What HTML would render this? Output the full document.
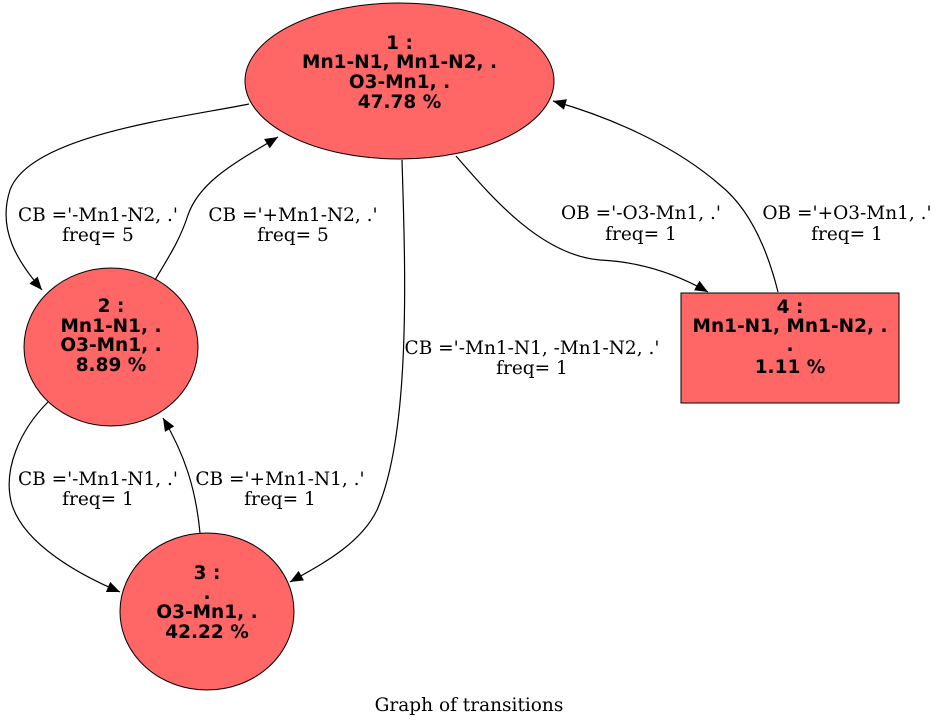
<!DOCTYPE html>
<html><head><meta charset="utf-8"><style>
html,body{margin:0;padding:0;background:#fff;}
svg{display:block;}
.n{font-family:"DejaVu Sans","Liberation Sans",sans-serif;font-weight:bold;font-size:18.5px;text-anchor:middle;fill:#000;}
.e{font-family:"DejaVu Serif","Liberation Serif",serif;font-size:18.5px;text-anchor:middle;fill:#000;}
path.c{fill:none;stroke:#000;stroke-width:1.2;}
</style></head><body>
<svg width="939" height="727" viewBox="0 0 939 727" xmlns="http://www.w3.org/2000/svg">
<defs><marker id="a" viewBox="0 0 10 10" refX="10" refY="5" markerWidth="13" markerHeight="13" markerUnits="userSpaceOnUse" orient="auto"><path d="M0,0.8 L10,5 L0,9.2 z" fill="#000"/></marker></defs>
<ellipse cx="399.5" cy="81" rx="154.5" ry="78" fill="#ff6666" stroke="#000"/>
<ellipse cx="111" cy="347" rx="87" ry="79" fill="#ff6666" stroke="#000"/>
<ellipse cx="207" cy="611.5" rx="87" ry="78.5" fill="#ff6666" stroke="#000"/>
<rect x="681" y="293" width="218" height="110" fill="#ff6666" stroke="#000"/>
<path class="c" marker-end="url(#a)" d="M249,104 C180,118 30,135 10,190 C-3,230 18,262 42,290"/>
<path class="c" marker-end="url(#a)" d="M155,280 C168,258 180,240 188,215 C200,180 240,160 278,137"/>
<path class="c" marker-end="url(#a)" d="M402,160 C405,260 412,430 377,510 C360,545 320,565 290,582"/>
<path class="c" marker-end="url(#a)" d="M456,156 C490,195 540,255 600,260 C645,262 680,276 708,292"/>
<path class="c" marker-end="url(#a)" d="M778,292 C765,240 745,205 720,185 C680,150 620,120 553,101"/>
<path class="c" marker-end="url(#a)" d="M48,402 C20,430 2,470 12,505 C25,545 80,575 120,592"/>
<path class="c" marker-end="url(#a)" d="M200,533 C196,490 185,455 163,418"/>
<text class="n" x="399.5" y="49">1 :</text>
<text class="n" x="399.5" y="68">Mn1-N1, Mn1-N2, .</text>
<text class="n" x="399.5" y="88">O3-Mn1, .</text>
<text class="n" x="399.5" y="108">47.78 %</text>
<text class="n" x="111" y="312">2 :</text>
<text class="n" x="111" y="332">Mn1-N1, .</text>
<text class="n" x="111" y="351">O3-Mn1, .</text>
<text class="n" x="111" y="371">8.89 %</text>
<text class="n" x="207" y="579">3 :</text>
<text class="n" x="207" y="599">.</text>
<text class="n" x="207" y="618">O3-Mn1, .</text>
<text class="n" x="207" y="638">42.22 %</text>
<text class="n" x="790" y="313">4 :</text>
<text class="n" x="790" y="332">Mn1-N1, Mn1-N2, .</text>
<text class="n" x="790" y="351">.</text>
<text class="n" x="790" y="373">1.11 %</text>
<text class="e" x="98" y="221">CB ='-Mn1-N2, .'</text><text class="e" x="98" y="241">freq= 5</text>
<text class="e" x="293" y="221">CB ='+Mn1-N2, .'</text><text class="e" x="293" y="241">freq= 5</text>
<text class="e" x="641" y="219">OB ='-O3-Mn1, .'</text><text class="e" x="641" y="240">freq= 1</text>
<text class="e" x="847" y="219">OB ='+O3-Mn1, .'</text><text class="e" x="847" y="240">freq= 1</text>
<text class="e" x="532" y="354">CB ='-Mn1-N1, -Mn1-N2, .'</text><text class="e" x="532" y="374">freq= 1</text>
<text class="e" x="98" y="485">CB ='-Mn1-N1, .'</text><text class="e" x="98" y="505">freq= 1</text>
<text class="e" x="280" y="485">CB ='+Mn1-N1, .'</text><text class="e" x="280" y="505">freq= 1</text>
<text class="e" x="469" y="711">Graph of transitions</text>
</svg>
</body></html>
